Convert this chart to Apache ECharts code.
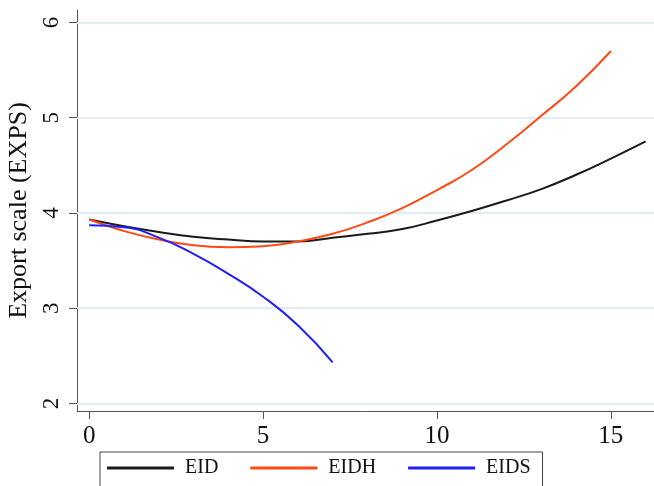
<!DOCTYPE html>
<html>
<head>
<meta charset="utf-8">
<script src="https://cdn.jsdelivr.net/npm/echarts@6/dist/echarts.min.js"></script>
<style>
  html, body { margin: 0; padding: 0; background: #fff; }
  #chart { width: 654px; height: 486px; }
</style>
</head>
<body>
<div id="chart"></div>
<script>
// values
var xEID = [0, 1, 2, 3, 4, 5, 6, 7, 8, 9, 10, 11, 12, 13, 14, 15, 16]
var eid = [3.93, 3.86, 3.80, 3.75, 3.72, 3.70, 3.70, 3.74, 3.78, 3.83, 3.92, 4.02, 4.13, 4.25, 4.40, 4.57, 4.75]
var xEIDH = [0, 1, 2, 3, 4, 5, 6, 7, 8, 9, 10, 11, 12, 13, 14, 15]
var eidh = [3.93, 3.81, 3.72, 3.66, 3.64, 3.65, 3.70, 3.78, 3.90, 4.05, 4.24, 4.45, 4.72, 5.02, 5.33, 5.70]
var xEIDS = [0, 1, 2, 3, 4, 5, 6, 7]
var eids = [3.87, 3.85, 3.74, 3.57, 3.36, 3.12, 2.82, 2.43]
var xTicks = [0, 5, 10, 15]
var yTicks = [2, 3, 4, 5, 6]

var serif = 'Liberation Serif'

function pairs(xs, ys) {
  return xs.map(function(x, i) {
    return [x, ys[i]]
  })
}

var chart = echarts.init(document.getElementById('chart'))
chart.setOption({
  animation: false,
  grid: {
    left: 77,
    right: 0,
    top: 10,
    bottom: 75,
    outerBoundsMode: 'none',
    containLabel: false
  },
  legend: {
    left: 100,
    top: 452,
    orient: 'horizontal',
    icon: 'rect',
    itemWidth: 67,
    itemHeight: 3,
    itemGap: 32,
    borderColor: '#444',
    borderWidth: 1,
    padding: [6, 12, 30, 7],
    textStyle: {
      fontFamily: serif,
      fontSize: 20,
      color: '#111',
      padding: [0, 0, 0, 6]
    },
    data: ['EID', 'EIDH', 'EIDS']
  },
  xAxis: {
    type: 'value',
    min: -0.35,
    max: 16.24,
    axisLine: { onZero: false, lineStyle: { color: '#555', width: 1 }},
    axisTick: {
      show: true,
      length: 8,
      customValues: xTicks,
      lineStyle: { color: '#555' }
    },
    axisLabel: {
      customValues: xTicks,
      fontFamily: serif,
      fontSize: 25,
      color: '#111',
      margin: 13
    },
    splitLine: { show: false }
  },
  yAxis: {
    type: 'value',
    min: 1.92,
    max: 6.13,
    name: 'Export scale (EXPS)',
    nameLocation: 'middle',
    nameGap: 40,
    nameTextStyle: {
      fontFamily: serif,
      fontSize: 26,
      color: '#111'
    },
    axisLine: { show: true, onZero: false, lineStyle: { color: '#555', width: 1 }},
    axisTick: {
      show: true,
      length: 8,
      customValues: yTicks,
      lineStyle: { color: '#555' }
    },
    axisLabel: {
      customValues: yTicks,
      rotate: 90,
      fontFamily: serif,
      fontSize: 23,
      color: '#111',
      margin: 14
    },
    splitLine: { show: false }
  },
  series: [
    {
      // grid lines only
      type: 'line',
      data: [],
      z: 1,
      markLine: {
        silent: true,
        symbol: 'none',
        z: 1,
        label: { show: false },
        lineStyle: { color: '#e3edf1', width: 2, type: 'solid' },
        data: yTicks.map(function(v) {
          return { yAxis: v }
        })
      }
    },
    {
      name: 'EID',
      type: 'line',
      smooth: true,
      showSymbol: false,
      z: 3,
      color: '#1a1a1a',
      lineStyle: { width: 2 },
      data: pairs(xEID, eid)
    },
    {
      name: 'EIDH',
      type: 'line',
      smooth: true,
      showSymbol: false,
      z: 3,
      color: '#ff4a14',
      lineStyle: { width: 2 },
      data: pairs(xEIDH, eidh)
    },
    {
      name: 'EIDS',
      type: 'line',
      smooth: true,
      showSymbol: false,
      z: 3,
      color: '#1f1fff',
      lineStyle: { width: 2 },
      data: pairs(xEIDS, eids)
    }
  ]
})
</script>
</body>
</html>
